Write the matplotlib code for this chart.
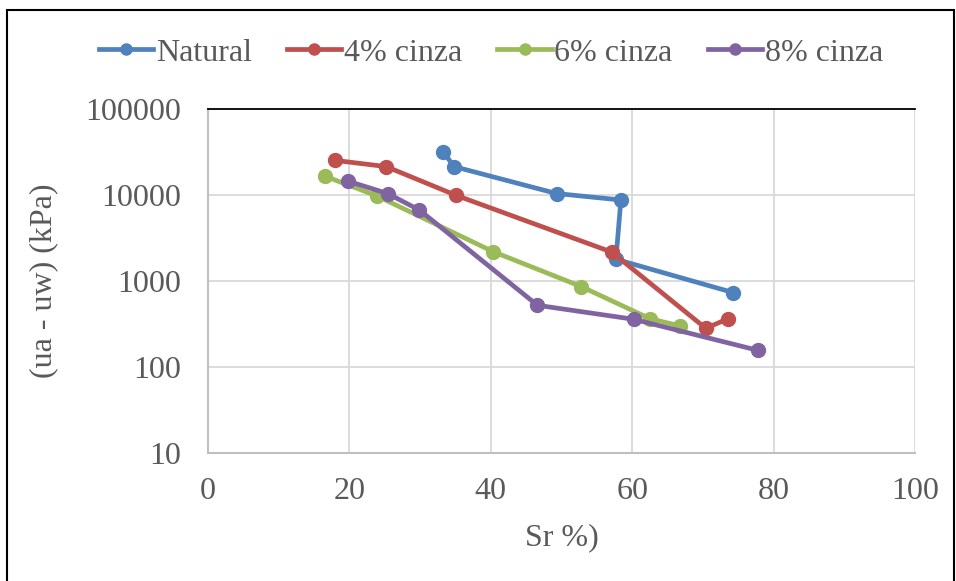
import matplotlib.pyplot as plt
from matplotlib.patches import Rectangle
from matplotlib.ticker import FixedLocator, NullLocator

plt.rcParams['font.family'] = ['Liberation Serif', 'DejaVu Serif']

# data
nat_x = [33.3, 34.8, 49.3, 58.4, 57.7, 74.3]
nat_y = [31600, 21400, 10400, 8750, 1790, 733]
c4_x = [17.9, 25.2, 35.1, 57.1, 70.4, 73.6]
c4_y = [25300, 21400, 9900, 2170, 282, 365]
c6_x = [16.5, 23.9, 40.3, 52.8, 62.5, 66.8]
c6_y = [16600, 9750, 2200, 861, 365, 300]
c8_x = [19.8, 25.4, 29.9, 46.6, 60.2, 77.8]
c8_y = [14500, 10400, 6690, 522, 359, 156]

series = [
    ('Natural', nat_x, nat_y, '#4F81BD'),
    ('4% cinza', c4_x, c4_y, '#C0504D'),
    ('6% cinza', c6_x, c6_y, '#9BBB59'),
    ('8% cinza', c8_x, c8_y, '#8064A2'),
]

xticks = [0, 20, 40, 60, 80, 100]
yticks = [10, 100, 1000, 10000, 100000]
ytick_labels = ['10', '100', '1000', '10000', '100000']

txt = '#595959'
fs = 23
fig = plt.figure(figsize=(9.56, 5.81), dpi=100)
ax = fig.add_axes([208/956, 1-453/581, (915-208)/956, (453-109)/581])

for name, xs, ys, col in series:
    ax.plot(xs, ys, '-o', color=col, lw=3.4, ms=10, label=name, zorder=3)

ax.set_yscale('log')
ax.set_xlim(0, 100)
ax.set_ylim(10, 100000)
ax.xaxis.set_major_locator(FixedLocator(xticks))
ax.yaxis.set_major_locator(FixedLocator(yticks))
ax.yaxis.set_minor_locator(NullLocator())
ax.set_yticklabels(ytick_labels)
ax.grid(True, color='#d9d9d9', lw=1.3)
ax.tick_params(axis='y', length=0, labelsize=fs, colors=txt, pad=19)
ax.tick_params(axis='x', length=0, labelsize=fs, colors=txt, pad=17)

for s in ['left', 'bottom']:
    ax.spines[s].set_color('#bfbfbf')
    ax.spines[s].set_linewidth(1.5)
ax.spines['right'].set_visible(False)
ax.spines['top'].set_color('#000000')
ax.spines['top'].set_linewidth(1.3)

ax.set_xlabel('Sr %)', fontsize=fs, color=txt, labelpad=13)
ax.set_ylabel('(ua - uw) (kPa)', fontsize=fs, color=txt, labelpad=20)

fig.legend(loc='center', bbox_to_anchor=(491/956, 1-53/581), ncol=4, frameon=False,
           fontsize=fs, labelcolor=txt, handlelength=1.7, handletextpad=0.08,
           columnspacing=1.1, markerscale=0.8)

fig.patches.append(Rectangle((7/956, -0.1), (954-7)/956, 1.1-10/581,
                             transform=fig.transFigure, fill=False,
                             edgecolor='black', lw=1.5))

fig.savefig('out.png', dpi=100)
